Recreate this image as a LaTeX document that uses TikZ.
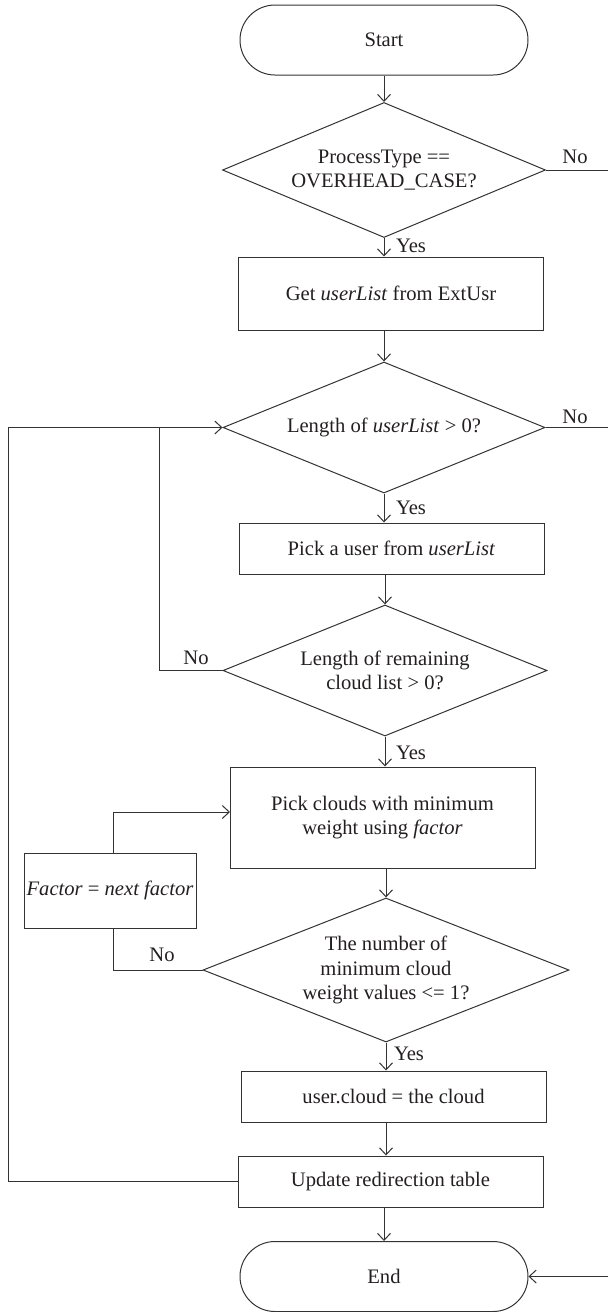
\documentclass[tikz,border=0pt]{standalone}
\usepackage{fontspec}
\setmainfont{Liberation Serif}
\usetikzlibrary{shapes.geometric,shapes.misc,arrows.meta}
\definecolor{ink}{HTML}{231F20}
\definecolor{wire}{HTML}{333333}
\begin{document}
\begin{tikzpicture}[x=1pt,y=-1pt,
  line width=1pt,
  every node/.style={font=\fontsize{20.6pt}{24.5pt}\selectfont, text=ink},
  term/.style={rounded rectangle, draw=wire, minimum width=288pt, minimum height=70pt, inner sep=0pt},
  proc/.style={rectangle, draw=wire, minimum width=305pt, inner sep=0pt, align=center},
  decide/.style={diamond, draw=wire, shape aspect=2.5, inner sep=0pt, align=center},
  wireline/.style={draw=wire},
  flow/.style={draw=wire, -{Straight Barb[length=7pt,width=13pt]}},
  lbl/.style={inner sep=1pt}
]
\useasboundingbox (0,0) rectangle (608,1312);

% main column
\node[term] (start) at (384,40) {Start};
\node[decide, minimum width=323pt, minimum height=135pt] (d1) at (384,170) {ProcessType ==\\OVERHEAD\_CASE?};
\node[proc, minimum height=73pt] (b1) at (391,293.5) {Get \textit{userList} from ExtUsr};
\node[decide, minimum width=322pt, minimum height=131pt] (d2) at (384,427.5) {Length of \textit{userList} > 0?};
\node[proc, minimum height=51pt] (b2) at (391.5,548.5) {Pick a user from \textit{userList}};
\node[decide, minimum width=324pt, minimum height=131pt] (d3) at (385,670.5) {Length of remaining\\cloud list > 0?};
\node[proc, minimum height=101pt] (b3) at (382.5,817.5) {Pick clouds with minimum\\weight using \textit{factor}};
\node[proc, minimum width=172pt, minimum height=75pt] (fac) at (110,890.5) {\textit{Factor} = \textit{next factor}};
\node[decide, minimum width=366pt, minimum height=144pt] (d4) at (386,970) {The number of\\minimum cloud\\weight values <= 1?};
\node[proc, minimum height=51pt] (b4) at (393.5,1096.5) {user.cloud = the cloud};
\node[proc, minimum height=51pt] (b5) at (390.5,1181.5) {Update redirection table};
\node[term] (end) at (384,1276.5) {End};

% routing points
\coordinate (railBot) at (8,1181.5);
\coordinate (railTop) at (8,427.5);
\coordinate (noTurn) at (159,670.5);
\coordinate (noJoin) at (159,427.5);
\coordinate (facTurn) at (113,970);
\coordinate (facUp) at (113,812);
\coordinate (b3in) at (230,812);
\coordinate (r1) at (608,170);
\coordinate (r2) at (608,427.5);
\coordinate (r3) at (608,1276.5);

% vertical flow
\draw[flow] (start.south) -- (d1.north);
\draw[flow] (d1.south) -- (d1.south |- b1.north);
\draw[flow] (d2.north |- b1.south) -- (d2.north);
\draw[flow] (d2.south) -- (d2.south |- b2.north);
\draw[flow] (d3.north |- b2.south) -- (d3.north);
\draw[flow] (d3.south) -- (d3.south |- b3.north);
\draw[flow] (d4.north |- b3.south) -- (d4.north);
\draw[flow] (d4.south) -- (d4.south |- b4.north);
\draw[flow] (d4.south |- b4.south) -- (d4.south |- b5.north);
\draw[flow] (end.north |- b5.south) -- (end.north);

% loops on the left
\draw[wireline] (b5.west) -- (railBot) -- (railTop);
\draw[flow] (railTop) -- (d2.west);
\draw[wireline] (d3.west) -- (noTurn) -- (noJoin);
\draw[wireline] (d4.west) -- (facTurn) -- (facTurn |- fac.south);
\draw[flow] (facUp |- fac.north) -- (facUp) -- (b3in);

% exits on the right
\draw[wireline] (d1.east) -- (r1);
\draw[wireline] (d2.east) -- (r2);
\draw[flow] (r3) -- (end.east);

% branch labels
\node[lbl] (yes1) at (411,246) {Yes};
\node[lbl] (yes2) at (411,508) {Yes};
\node[lbl] (yes3) at (411,753) {Yes};
\node[lbl] (yes4) at (409,1054) {Yes};
\node[lbl] (no1) at (575,157) {No};
\node[lbl] (no2) at (575,417) {No};
\node[lbl] (no3) at (196,658) {No};
\node[lbl] (no4) at (162,955) {No};
\end{tikzpicture}
\end{document}
